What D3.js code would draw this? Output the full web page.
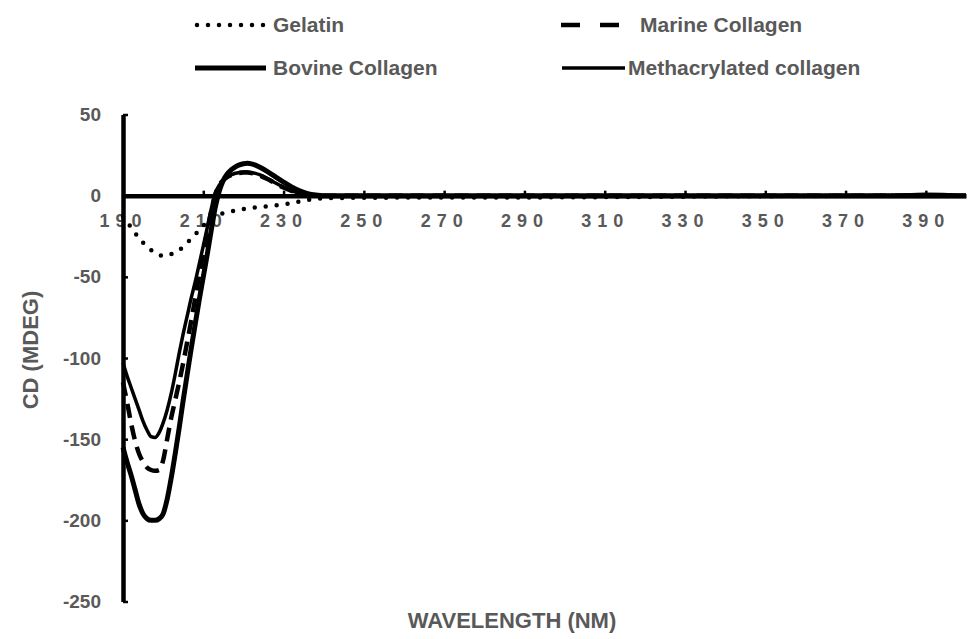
<!DOCTYPE html>
<html>
<head>
<meta charset="utf-8">
<script src="https://cdn.jsdelivr.net/npm/d3@7"></script>
<style>
    body { margin: 0; background: #fff; }
    text { font-family: "Liberation Sans", Arial, sans-serif; font-weight: bold; fill: #595959; }
</style>
</head>
<body>
<div id="chart"></div>
<script>
    // wavelength (nm)
    var wavelength = [190,191,192,193,194,195,196,197,198,199,200,201,202,203,204,205,206,207,208,209,
                      210,211,212,213,214,215,216,217,218,219,220,221,222,223,224,
                      226,228,230,232,234,236,238,240,
                      250,260,270,280,290,300,310,320,330,340,350,360,370,380,390,400];

    var gelatin = [-13,-16,-19.5,-23,-26,-29,-31.5,-33.5,-35.5,-36.5,-37,-37,-36,-35,-33.5,-31.5,-29,-26.5,-24,-21,
                   -18.5,-16,-14,-12.5,-11.5,-10.8,-10.2,-9.7,-9.2,-8.7,-8.2,-7.8,-7.5,-7.2,-7,
                   -6.5,-6,-5.4,-4.6,-3.6,-2.7,-2,-1.6,
                   -1.3,-1.2,-1.2,-1.1,-1.1,-1,-0.9,-0.8,-0.6,-0.4,-0.3,-0.2,-0.1,0,0,0];

    var marine = [-115,-127,-140,-151,-159,-164,-167.5,-169,-169.5,-169,-163,-150,-137,-126,-115,-103,-90,-77,-63,-49,
                  -35,-22,-9.5,1,6.5,9.5,11.5,12.8,13.6,14,14.2,14.2,13.9,13.3,12.5,
                  10.2,7.5,5,2.9,1.4,0.5,0.1,0,
                  0,0,0,0,0,0,0,0,0,0,0,0,0,0,0,0];

    var bovine = [-155,-164,-172,-181,-190,-196,-199,-200,-200,-199,-196,-187,-174,-159,-143,-126,-110,-94,-79,-64,
                  -50,-36,-21,-7,3,9.5,13.5,16,17.8,19,19.7,19.9,19.6,18.8,17.6,
                  14.8,11.6,8.4,5.4,3,1.3,0.4,0,
                  0,0,0,0,0,0,0,0,0,0,0,0,0,0,0,0];

    var methacrylated = [-103,-111,-118,-125,-132,-139,-144.5,-148.5,-149,-146,-140,-132,-122,-110,-97,-85,-74,-63,-53,-42,
                         -31,-19.5,-8,1.5,6.5,9.5,11.5,12.9,13.8,14.3,14.6,14.6,14.3,13.7,12.9,
                         10.6,7.8,5.2,3,1.5,0.6,0.1,0,
                         0,0,0,0,0,0,0,0,0,0,0,0,0,0,0.8,0];

    var seriesNames = ["Gelatin", "Marine Collagen", "Bovine Collagen", "Methacrylated collagen"];
    var xTicks = [190,210,230,250,270,290,310,330,350,370,390];
    var yTicks = [50,0,-50,-100,-150,-200,-250];

    var width = 968, height = 639;

    var svg = d3.select("#chart")
            .append("svg")
            .attr("width", width)
            .attr("height", height);

    var x = d3.scaleLinear().domain([190, 400]).range([123, 966]);
    var y = d3.scaleLinear().domain([50, -250]).range([114.5, 601.5]);

    // line styles for each series
    var styles = [
        {data: gelatin, width: 4.5, dash: "0,11", cap: "round", legendDash: "0,11"},
        {data: marine, width: 4.5, dash: "14,8", cap: "butt", legendDash: "19,20"},
        {data: bovine, width: 5, dash: null, cap: "butt", legendDash: null},
        {data: methacrylated, width: 3.5, dash: null, cap: "butt", legendDash: null}
    ];

    // plain hyphen for negative numbers, like the original
    var fmt = function(d) { return String(d); };

    /*
        Axes
    */
    var xAxis = d3.axisBottom(x)
        .tickValues(xTicks)
        .tickFormat(fmt)
        .tickSizeInner(-5)
        .tickSizeOuter(0)
        .tickPadding(19);

    var gx = svg.append("g")
        .attr("transform", "translate(0," + y(0) + ")")
        .call(xAxis);
    gx.select(".domain").attr("stroke", "#000").attr("stroke-width", 4.5);
    gx.selectAll(".tick line").attr("stroke", "#000").attr("stroke-width", 2.5);
    gx.selectAll(".tick text")
        .style("font-size", "18px")
        .style("letter-spacing", "6px")
        .attr("fill", "#595959");

    var yAxis = d3.axisLeft(y)
        .tickValues(yTicks)
        .tickFormat(fmt)
        .tickSizeInner(-5)
        .tickSizeOuter(0)
        .tickPadding(22);

    var gy = svg.append("g")
        .attr("transform", "translate(" + x(190) + ",0)")
        .call(yAxis);
    gy.select(".domain").attr("stroke", "#000").attr("stroke-width", 4.5);
    gy.selectAll(".tick line").attr("stroke", "#000").attr("stroke-width", 2.5);
    gy.selectAll(".tick text")
        .style("font-size", "19px")
        .attr("fill", "#595959");

    /*
        Curves
    */
    var line = d3.line()
        .x(function(d, i) { return x(wavelength[i]); })
        .y(function(d) { return y(d); })
        .curve(d3.curveMonotoneX);

    svg.selectAll(".curve")
        .data(styles)
        .enter().append("path")
        .attr("class", "curve")
        .attr("d", function(s) { return line(s.data); })
        .attr("fill", "none")
        .attr("stroke", "#000")
        .attr("stroke-width", function(s) { return s.width; })
        .attr("stroke-dasharray", function(s) { return s.dash; })
        .attr("stroke-linecap", function(s) { return s.cap; })
        .attr("stroke-linejoin", "round");

    /*
        Axis titles
    */
    svg.append("text")
        .attr("x", 512)
        .attr("y", 628)
        .attr("text-anchor", "middle")
        .style("font-size", "22px")
        .text("WAVELENGTH (NM)");

    svg.append("text")
        .attr("transform", "translate(38,350) rotate(-90)")
        .attr("text-anchor", "middle")
        .style("font-size", "22px")
        .text("CD (MDEG)");

    /*
        Legend
    */
    var legendPos = [
        {x1: 197, x2: 265, tx: 273, y: 25},
        {x1: 561, x2: 620, tx: 640, y: 25},
        {x1: 195, x2: 266, tx: 273, y: 68},
        {x1: 562, x2: 625, tx: 628, y: 68}
    ];

    var legend = svg.selectAll(".legend")
        .data(seriesNames)
        .enter().append("g")
        .attr("class", "legend");

    legend.append("line")
        .attr("x1", function(d, i) { return legendPos[i].x1; })
        .attr("x2", function(d, i) { return legendPos[i].x2; })
        .attr("y1", function(d, i) { return legendPos[i].y; })
        .attr("y2", function(d, i) { return legendPos[i].y; })
        .attr("stroke", "#000")
        .attr("stroke-width", function(d, i) { return styles[i].width; })
        .attr("stroke-dasharray", function(d, i) { return styles[i].legendDash; })
        .attr("stroke-linecap", function(d, i) { return styles[i].cap; });

    legend.append("text")
        .attr("x", function(d, i) { return legendPos[i].tx; })
        .attr("y", function(d, i) { return legendPos[i].y; })
        .attr("dy", "0.35em")
        .style("font-size", "21px")
        .text(function(d) { return d; });
</script>
</body>
</html>
